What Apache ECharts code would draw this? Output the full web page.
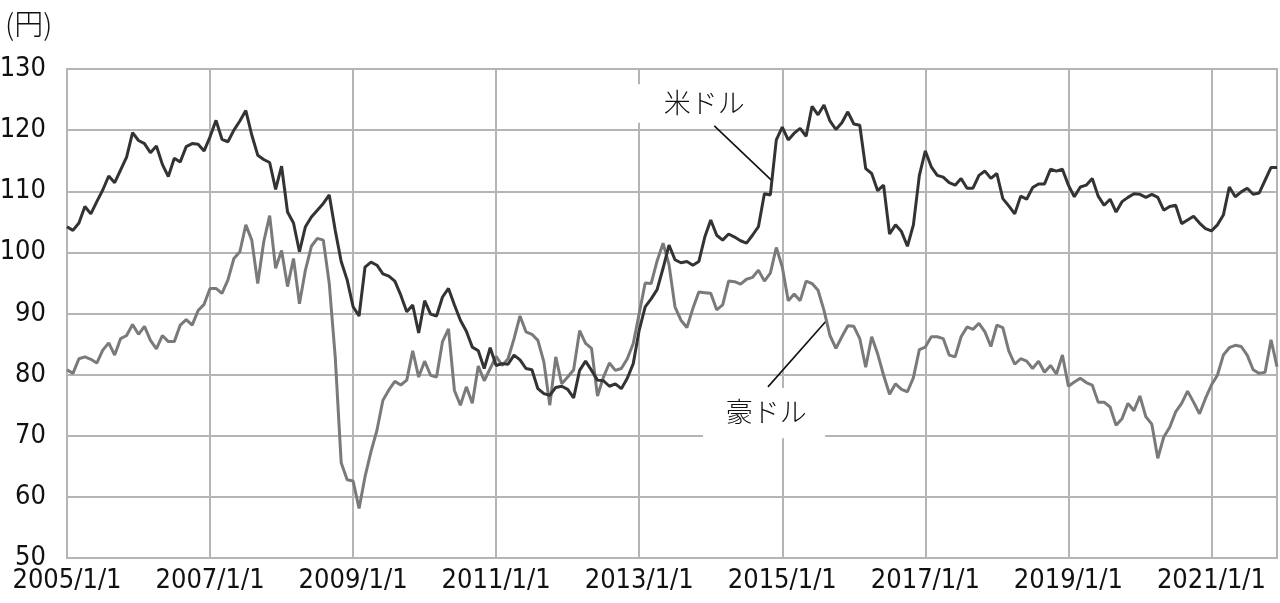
<!DOCTYPE html>
<html><head><meta charset="utf-8">
<script src="https://cdn.jsdelivr.net/npm/echarts@6/dist/echarts.min.js"></script>
<style>html,body{margin:0;padding:0;background:#fff}#c{width:1280px;height:603px}</style>
</head><body><div id="c"></div>
<script>
// Monthly data, 2005/1 .. 2021/12 (yen per unit)
const startYear = 2005;
const usdJpy = [
104.2,103.6,104.8,107.5,106.3,108.3,110.2,112.5,111.4,113.5,115.6,119.6,
118.3,117.8,116.3,117.4,114.4,112.4,115.4,114.8,117.3,117.8,117.7,116.6,
118.9,121.6,118.5,118.1,120.0,121.5,123.2,119.2,115.9,115.2,114.7,110.3,
114.1,106.6,104.8,100.1,104.2,105.8,106.9,108.0,109.4,103.6,98.5,95.5,
91.1,89.6,97.6,98.4,97.9,96.5,96.1,95.3,93.0,90.3,91.4,86.8,
92.1,89.9,89.6,92.7,94.1,91.4,88.9,87.1,84.5,83.9,81.0,84.4,
81.5,81.8,81.7,83.2,82.4,81.0,80.8,77.7,76.9,76.6,77.9,78.1,
77.6,76.2,80.7,82.2,80.7,79.1,79.0,78.1,78.5,77.7,79.4,81.8,
87.3,91.1,92.4,93.9,97.4,101.2,98.8,98.3,98.5,97.9,98.5,102.5,
105.3,102.8,102.0,103.0,102.5,101.9,101.5,102.8,104.2,109.6,109.4,118.4,
120.5,118.4,119.5,120.3,119.0,123.9,122.5,124.1,121.5,120.1,121.2,123.0,
121.0,120.8,113.7,112.9,110.1,111.0,103.0,104.5,103.4,101.0,104.5,112.6,
116.6,114.0,112.6,112.3,111.4,111.0,112.1,110.5,110.5,112.6,113.3,112.1,
112.9,108.8,107.6,106.3,109.2,108.7,110.6,111.2,111.2,113.6,113.3,113.6,
111.0,109.1,110.7,111.0,112.1,109.2,107.7,108.7,106.6,108.3,109.0,109.6,
109.5,109.0,109.5,109.0,106.9,107.5,107.7,104.7,105.3,105.9,104.8,103.9,
103.5,104.5,106.1,110.7,109.1,109.9,110.5,109.5,109.7,111.8,113.9,113.9
];
const audJpy = [
80.8,80.2,82.6,82.9,82.5,81.9,84.0,85.2,83.2,85.9,86.4,88.2,
86.6,87.9,85.6,84.2,86.4,85.4,85.4,88.1,89.0,88.1,90.5,91.5,
94.1,94.1,93.3,95.5,99.0,100.1,104.5,102.0,94.9,101.7,106.0,97.4,
100.3,94.4,99.0,91.6,97.1,101.0,102.3,102.0,94.9,82.9,65.6,62.8,
62.6,58.1,63.3,67.4,70.9,75.8,77.5,78.9,78.3,79.1,83.9,79.6,
82.2,79.9,79.6,85.4,87.5,77.4,75.0,78.0,75.3,81.4,79.0,81.0,
83.0,81.5,82.6,85.9,89.6,87.0,86.6,85.6,82.1,75.0,82.9,78.5,
79.6,80.8,87.2,85.1,84.3,76.5,79.6,81.9,80.7,81.0,82.6,85.1,
90.0,95.0,94.9,98.6,101.5,98.0,91.1,88.9,87.7,90.8,93.5,93.4,
93.3,90.6,91.4,95.3,95.2,94.8,95.6,95.9,97.1,95.3,96.6,100.8,
97.6,92.1,93.2,92.1,95.3,94.9,93.8,90.5,86.4,84.3,86.2,88.0,
87.9,85.9,81.2,86.2,83.4,79.9,76.8,78.5,77.6,77.2,79.5,84.1,
84.5,86.2,86.2,85.9,83.2,82.9,86.2,87.8,87.4,88.4,87.0,84.6,
88.1,87.7,83.9,81.7,82.6,82.2,81.0,82.2,80.4,81.5,80.1,83.2,
78.1,78.8,79.4,78.7,78.3,75.5,75.5,74.7,71.7,72.8,75.3,74.1,
76.5,73.1,71.9,66.3,69.8,71.4,73.9,75.3,77.3,75.5,73.6,76.1,
78.3,79.9,83.2,84.4,84.8,84.6,83.2,80.8,80.2,80.4,85.7,81.3
];
const xTickLabels = ['2005/1/1','2007/1/1','2009/1/1','2011/1/1','2013/1/1','2015/1/1','2017/1/1','2019/1/1','2021/1/1'];
const yMin = 50, yMax = 130, yStep = 10;
const unitLabel = '(円)';
const seriesNames = ['米ドル','豪ドル'];
// annotation anchors in data units: [monthIndex, yen]
const annotations = [
  {text:'米ドル', box:[[94.5,127.5],[116.3,121.2]], at:[106.9,124.4], line:[[108.6,120.7],[118.3,111.7]]},
  {text:'豪ドル', box:[[106.7,77.8],[127.2,69.6]], at:[117.3,74.0], line:[[117.6,78.0],[127.4,88.8]]}
];

const numFont = "'Liberation Sans Narrow','DejaVu Sans Condensed',sans-serif";
const jpFont = "'Noto Sans CJK JP',sans-serif";
const gridColor = '#b5b5b5';
const nMonths = usdJpy.length;

const chart = echarts.init(document.getElementById('c'), null, {renderer:'canvas'});
chart.setOption({
  animation:false,
  grid:{left:67, right:3, top:69, bottom:45, show:true, borderColor:gridColor, borderWidth:2,
        containLabel:false, outerBoundsMode:'none'},
  xAxis:{type:'value', min:0, max:nMonths-1, interval:24,
    axisLine:{show:false}, axisTick:{show:false},
    splitLine:{show:true, lineStyle:{color:gridColor, width:2}},
    axisLabel:{showMaxLabel:false, margin:9, color:'#111', fontFamily:numFont, fontSize:27, fontWeight:300,
      formatter:v => xTickLabels[Math.round(v/24)] || ''}
  },
  yAxis:{type:'value', min:yMin, max:yMax, interval:yStep,
    axisLine:{show:false}, axisTick:{show:false},
    splitLine:{show:true, lineStyle:{color:gridColor, width:2}},
    axisLabel:{margin:21, color:'#111', fontFamily:numFont, fontSize:27, fontWeight:300}
  },
  series:[
    {name:seriesNames[1], type:'line', data:audJpy.map((v,i)=>[i,v]), showSymbol:false, symbol:'none',
     lineStyle:{color:'#7a7a7a', width:3}, z:3},
    {name:seriesNames[0], type:'line', data:usdJpy.map((v,i)=>[i,v]), showSymbol:false, symbol:'none',
     lineStyle:{color:'#333333', width:3}, z:4}
  ]
});

const px = p => chart.convertToPixel({gridIndex:0}, p);
const g = [{type:'text', left:5, top:9, style:{text:unitLabel, font:"300 29px "+jpFont, fill:'#111'}}];
annotations.forEach(a => {
  const p1 = px(a.box[0]), p2 = px(a.box[1]);
  g.push({type:'rect', z:1, shape:{x:Math.min(p1[0],p2[0]), y:Math.min(p1[1],p2[1]), width:Math.abs(p2[0]-p1[0]), height:Math.abs(p2[1]-p1[1])}, style:{fill:'#fff'}});
  const c = px(a.at);
  g.push({type:'text', z:2, x:c[0], y:c[1], style:{text:a.text, font:"300 27px "+jpFont, fill:'#111', align:'center', verticalAlign:'middle'}});
  const l1 = px(a.line[0]), l2 = px(a.line[1]);
  g.push({type:'line', z:2, shape:{x1:l1[0], y1:l1[1], x2:l2[0], y2:l2[1]}, style:{stroke:'#111', lineWidth:1.6}});
});
chart.setOption({graphic:g});
</script>
</body></html>
